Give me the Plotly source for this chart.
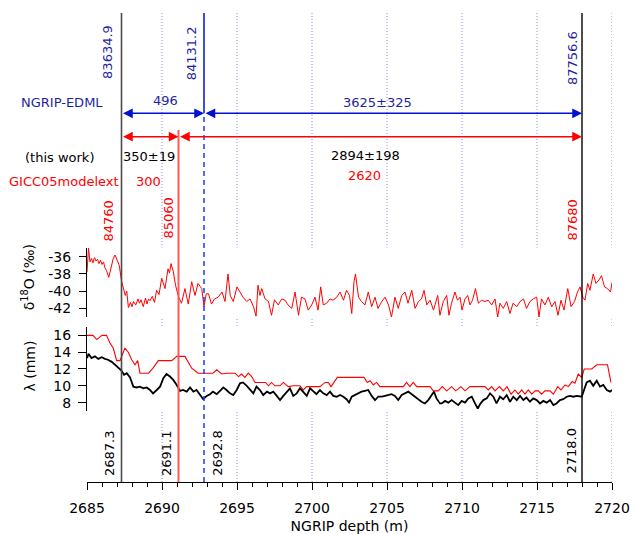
import plotly.graph_objects as go

# ---------------- data ----------------
d18o_depth = [2685.00, 2685.10, 2685.20, 2685.30, 2685.40, 2685.50, 2685.60, 2685.70, 2685.80, 2685.90,
              2686.00, 2686.10, 2686.20, 2686.30, 2686.45, 2686.60, 2686.75, 2686.87, 2687.00, 2687.15,
              2687.30, 2687.47, 2687.55, 2687.65, 2687.76, 2687.90, 2688.00, 2688.10, 2688.25, 2688.40,
              2688.50, 2688.60, 2688.75, 2688.90, 2689.00, 2689.10, 2689.20, 2689.35, 2689.50, 2689.64,
              2689.80, 2689.98, 2690.10, 2690.20, 2690.40, 2690.50, 2690.60, 2690.75, 2690.90, 2691.09,
              2691.30, 2691.53, 2691.75, 2691.98, 2692.20, 2692.40, 2692.65, 2692.80, 2692.95, 2693.10,
              2693.30, 2693.50, 2693.75, 2694.00, 2694.20, 2694.40, 2694.55, 2694.75, 2695.00, 2695.20,
              2695.40, 2695.65, 2695.87, 2696.10, 2696.27, 2696.40, 2696.53, 2696.65, 2696.87, 2697.10,
              2697.30, 2697.50, 2697.75, 2697.98, 2698.20, 2698.40, 2698.65, 2698.87, 2699.10, 2699.30,
              2699.53, 2699.75, 2699.98, 2700.20, 2700.40, 2700.58, 2700.75, 2700.98, 2701.20, 2701.40,
              2701.65, 2701.87, 2702.10, 2702.30, 2702.50, 2702.65, 2702.80, 2702.90, 2703.10, 2703.30,
              2703.53, 2703.75, 2703.98, 2704.20, 2704.40, 2704.65, 2704.87, 2705.10, 2705.30, 2705.53,
              2705.75, 2705.98, 2706.20, 2706.40, 2706.65, 2706.87, 2707.10, 2707.30, 2707.47, 2707.65,
              2707.87, 2708.10, 2708.38, 2708.53, 2708.75, 2708.98, 2709.13, 2709.30, 2709.53, 2709.70,
              2709.87, 2710.00, 2710.20, 2710.38, 2710.53, 2710.70, 2710.90, 2711.09, 2711.30, 2711.53,
              2711.75, 2711.98, 2712.20, 2712.38, 2712.53, 2712.75, 2712.98, 2713.20, 2713.40, 2713.65,
              2713.87, 2714.10, 2714.30, 2714.53, 2714.75, 2714.98, 2715.13, 2715.30, 2715.53, 2715.75,
              2715.98, 2716.20, 2716.40, 2716.60, 2716.80, 2717.05, 2717.27, 2717.50, 2717.70, 2717.87,
              2718.05, 2718.20, 2718.38, 2718.53, 2718.75, 2718.93, 2719.13, 2719.30, 2719.50, 2719.70,
              2719.90, 2720.00]
d18o = [-37.8, -35.0, -36.6, -36.2, -36.7, -36.1, -36.5, -36.3, -36.8, -36.4,
        -36.9, -36.6, -37.3, -37.6, -38.4, -37.2, -36.2, -35.8, -36.4, -37.0,
        -38.8, -39.9, -40.5, -40.0, -41.9, -41.3, -41.8, -41.2, -41.6, -40.9,
        -41.4, -41.0, -41.8, -40.8, -41.5, -40.9, -41.1, -40.6, -41.3, -39.9,
        -40.4, -38.5, -39.2, -39.7, -37.4, -37.9, -36.8, -37.7, -39.3, -40.6,
        -41.4, -39.7, -41.5, -38.9, -40.5, -39.1, -39.7, -41.8, -40.3, -40.3,
        -41.5, -40.9, -40.7, -40.1, -41.2, -38.0, -40.5, -41.2, -39.5, -40.1,
        -40.7, -41.2, -40.9, -41.8, -42.9, -39.3, -40.5, -39.7, -40.9, -41.2,
        -42.8, -41.0, -41.6, -40.9, -41.05, -41.6, -42.0, -40.1, -42.8, -40.7,
        -40.9, -42.2, -41.6, -40.7, -42.2, -39.5, -41.6, -41.4, -40.9, -41.05,
        -40.7, -40.1, -41.05, -39.9, -40.5, -42.6, -38.9, -38.0, -40.7, -41.2,
        -41.6, -40.1, -41.8, -40.7, -42.0, -41.2, -40.7, -41.6, -43.0, -40.7,
        -42.0, -40.5, -40.1, -41.4, -39.9, -42.0, -41.2, -40.9, -39.9, -41.6,
        -41.05, -42.2, -40.5, -42.8, -41.2, -40.5, -42.8, -41.4, -40.1, -41.05,
        -40.7, -42.2, -40.9, -40.5, -41.6, -41.05, -39.7, -41.4, -41.05, -41.2,
        -41.05, -41.6, -40.9, -43.0, -41.4, -42.0, -41.2, -42.6, -41.4, -41.8,
        -41.2, -40.9, -42.0, -41.2, -40.9, -40.7, -43.0, -40.9, -41.6, -40.7,
        -41.8, -41.2, -42.8, -41.05, -42.2, -39.7, -41.8, -41.2, -40.1, -39.5,
        -40.7, -41.05, -39.1, -39.9, -38.0, -39.1, -38.7, -38.2, -39.5, -39.7,
        -40.1, -39.0]

lam_model_depth = [2685.0, 2685.4, 2685.65, 2686.0, 2686.3, 2686.53, 2686.75, 2686.98, 2687.2, 2687.35,
                   2687.53, 2687.75, 2687.98, 2688.2, 2688.38, 2688.53, 2689.1, 2689.4, 2689.75, 2690.65,
                   2690.98, 2691.53, 2691.98, 2692.4, 2693.4, 2693.65, 2693.98, 2694.3, 2694.87, 2695.1,
                   2695.3, 2695.53, 2695.75, 2695.98, 2696.2, 2696.9, 2697.1, 2697.3, 2697.53, 2697.87,
                   2698.09, 2698.42, 2698.75, 2699.2, 2699.42, 2699.65, 2700.53, 2700.87, 2701.09, 2701.27,
                   2701.69, 2703.47, 2703.69, 2703.87, 2704.09, 2704.3, 2704.53, 2706.09, 2706.3, 2706.53,
                   2706.75, 2706.98, 2707.87, 2708.09, 2708.42, 2708.69, 2708.98, 2709.31, 2709.58, 2709.93,
                   2710.2, 2710.53, 2711.53, 2711.75, 2711.98, 2712.2, 2712.5, 2712.75, 2713.0, 2713.27,
                   2713.53, 2713.75, 2713.98, 2714.2, 2714.42, 2714.65, 2714.87, 2715.09, 2715.3, 2715.53,
                   2715.87, 2716.09, 2716.38, 2716.6, 2716.87, 2717.09, 2717.35, 2717.53, 2717.75, 2717.98,
                   2718.15, 2718.65, 2718.98, 2719.7, 2719.93]
lam_model = [16.0, 16.0, 15.5, 16.0, 16.0, 15.1, 14.5, 13.0, 13.0, 13.7,
             14.5, 14.0, 13.1, 12.5, 13.0, 11.5, 11.5, 12.1, 13.0, 13.0,
             13.5, 13.5, 12.1, 11.5, 11.5, 11.9, 11.4, 11.5, 11.5, 11.1,
             11.4, 11.0, 11.5, 11.1, 10.4, 10.4, 10.0, 10.4, 10.0, 10.0,
             10.4, 9.9, 10.0, 10.0, 9.5, 9.9, 9.9, 10.4, 10.4, 9.9,
             11.0, 11.0, 10.4, 10.6, 10.1, 10.4, 9.9, 9.9, 10.4, 9.9,
             10.4, 9.9, 9.9, 9.4, 9.4, 9.9, 9.4, 9.9, 9.4, 9.9,
             9.4, 9.9, 9.9, 9.5, 9.9, 9.4, 9.9, 9.4, 9.9, 9.0,
             9.5, 9.0, 9.5, 9.0, 9.5, 9.0, 9.4, 9.4, 9.0, 9.4,
             9.4, 9.0, 9.9, 9.5, 10.1, 9.9, 10.5, 10.3, 11.4, 11.0,
             12.0, 12.0, 12.5, 12.5, 10.4]

lam_depth = [2685.0, 2685.1, 2685.3, 2685.53, 2685.75, 2685.98, 2686.2, 2686.4, 2686.65, 2686.87,
             2687.1, 2687.3, 2687.47, 2687.65, 2687.87, 2688.09, 2688.3, 2688.53, 2688.75, 2688.98,
             2689.2, 2689.4, 2689.65, 2689.87, 2690.09, 2690.3, 2690.53, 2690.75, 2690.98, 2691.2,
             2691.4, 2691.65, 2691.87, 2692.09, 2692.3, 2692.53, 2692.75, 2692.98, 2693.2, 2693.4,
             2693.65, 2693.87, 2694.09, 2694.3, 2694.53, 2694.75, 2694.98, 2695.2, 2695.4, 2695.65,
             2695.87, 2696.09, 2696.3, 2696.53, 2696.75, 2697.0, 2697.2, 2697.42, 2697.65, 2697.87,
             2698.09, 2698.3, 2698.53, 2698.75, 2698.98, 2699.2, 2699.42, 2699.65, 2699.87, 2700.09,
             2700.3, 2700.53, 2700.75, 2700.98, 2701.2, 2701.42, 2701.65, 2701.87, 2702.09, 2702.3,
             2702.47, 2702.65, 2702.87, 2703.09, 2703.3, 2703.53, 2703.75, 2703.98, 2704.2, 2704.42,
             2704.65, 2704.87, 2705.09, 2705.3, 2705.53, 2705.75, 2705.98, 2706.2, 2706.42, 2706.65,
             2706.87, 2707.09, 2707.3, 2707.53, 2707.75, 2707.98, 2708.13, 2708.3, 2708.53, 2708.65,
             2708.87, 2709.09, 2709.31, 2709.53, 2709.75, 2709.98, 2710.2, 2710.42, 2710.65, 2710.87,
             2711.05, 2711.2, 2711.42, 2711.65, 2711.87, 2712.09, 2712.3, 2712.53, 2712.75, 2712.98,
             2713.2, 2713.42, 2713.65, 2713.87, 2714.09, 2714.3, 2714.53, 2714.75, 2714.98, 2715.2,
             2715.42, 2715.65, 2715.87, 2716.09, 2716.3, 2716.53, 2716.75, 2716.98, 2717.2, 2717.42,
             2717.65, 2717.98, 2718.15, 2718.31, 2718.53, 2718.75, 2718.98, 2719.2, 2719.42, 2719.65,
             2719.87, 2720.0]
lam = [13.3, 13.8, 13.3, 13.5, 13.2, 13.4, 13.2, 13.1, 12.85, 12.5,
       12.1, 11.8, 11.3, 11.5, 11.0, 9.9, 9.8, 9.9, 9.7, 9.8,
       9.5, 9.1, 9.5, 9.9, 10.9, 11.4, 11.1, 10.7, 10.1, 9.4,
       9.5, 9.3, 9.8, 9.3, 9.5, 8.9, 8.4, 8.8, 9.0, 9.3,
       9.0, 9.4, 9.8, 9.5, 9.1, 8.9, 9.5, 10.3, 10.4, 10.0,
       9.5, 9.1, 9.9, 9.5, 8.9, 9.3, 9.1, 9.3, 8.8, 8.3,
       8.8, 9.3, 9.7, 8.8, 9.1, 9.7, 9.3, 8.8, 9.7, 9.3,
       9.0, 9.5, 9.1, 8.9, 9.3, 8.8, 8.7, 8.9, 8.7, 8.4,
       8.0, 8.7, 8.9, 9.1, 9.3, 9.4, 9.5, 8.8, 8.3, 8.7,
       8.7, 8.8, 8.9, 9.0, 8.8, 8.3, 8.9, 9.1, 9.3, 9.0,
       8.7, 8.4, 8.1, 7.9, 8.3, 8.9, 9.3, 8.5, 7.9, 7.9,
       8.2, 8.0, 8.3, 8.0, 7.7, 8.2, 8.0, 8.5, 8.7, 7.9,
       7.3, 7.8, 8.3, 8.5, 9.1, 8.7, 7.9, 8.7, 8.4, 8.9,
       8.1, 8.7, 8.3, 8.8, 8.3, 8.6, 8.1, 8.5, 8.3, 7.9,
       8.2, 8.0, 8.3, 7.7, 7.9, 8.3, 8.4, 8.7, 8.8, 8.7,
       8.8, 8.7, 9.6, 10.4, 10.6, 10.0, 10.6, 9.9, 10.1, 9.5,
       9.3, 9.5]

x_tick_vals = [2685, 2690, 2695, 2700, 2705, 2710, 2715, 2720]
grid_depths = [2690, 2695, 2700, 2705, 2710, 2715, 2720]
d18o_tick_vals = [-42, -40, -38, -36]
d18o_tick_text = ["-42", "-40", "-38", "-36"]
lam_tick_vals = [8, 10, 12, 14, 16]

# event depths (NGRIP depth, m)
ev_start = 2687.3
ev_mid_red = 2691.1
ev_mid_blue = 2692.8
ev_end = 2718.0

# labels
edml_ages = ["83634.9", "84131.2", "87756.6"]
edml_durations = ["496", "3625±325"]
this_work_durations = ["350±19", "2894±198"]
gicc_durations = ["300", "2620"]
gicc_ages = ["84760", "85060", "87680"]
depth_labels = ["2687.3", "2691.1", "2692.8", "2718.0"]

# ---------------- figure ----------------
FONT = "DejaVu Sans"
RED = "#ff0000"
BLUE_TXT = "#1f1fa3"
BLUE_LN = "#0010d0"

fig = go.Figure()
fig.add_trace(go.Scatter(x=d18o_depth, y=d18o, mode="lines", line=dict(color=RED, width=1),
                         xaxis="x", yaxis="y2", showlegend=False))
fig.add_trace(go.Scatter(x=lam_model_depth, y=lam_model, mode="lines", line=dict(color=RED, width=1.1),
                         xaxis="x", yaxis="y3", showlegend=False))
fig.add_trace(go.Scatter(x=lam_depth, y=lam, mode="lines", line=dict(color="black", width=1.8),
                         xaxis="x", yaxis="y3", showlegend=False))

shapes = []
for g in grid_depths:
    shapes.append(dict(type="line", xref="x", yref="y", x0=g, x1=g, y0=0, y1=1,
                       line=dict(color="#8c8cff", width=1, dash="1px,2px"), layer="below"))

Y_BLUE = 0.7861
Y_RED = 0.7363
shapes += [
    dict(type="line", xref="x", yref="y", x0=ev_start, x1=ev_start, y0=0, y1=1,
         line=dict(color="#4a4a4a", width=1.6)),
    dict(type="line", xref="x", yref="y", x0=ev_end, x1=ev_end, y0=0, y1=1,
         line=dict(color="black", width=1.4)),
    dict(type="line", xref="x", yref="y", x0=ev_mid_red, x1=ev_mid_red, y0=0, y1=0.7505,
         line=dict(color="#ff5a5a", width=2)),
    dict(type="line", xref="x", yref="y", x0=ev_mid_blue, x1=ev_mid_blue, y0=Y_BLUE, y1=1,
         line=dict(color=BLUE_LN, width=1.5)),
    dict(type="line", xref="x", yref="y", x0=ev_mid_blue, x1=ev_mid_blue, y0=0, y1=Y_BLUE,
         line=dict(color="#1a3cff", width=1.5, dash="5px,4px")),
]

ann = []


def arrow(x0, x1, y, color):
    return dict(x=x1, y=y, ax=x0, ay=y, xref="x", yref="y", axref="x", ayref="y",
                text="", showarrow=True, arrowhead=2, arrowside="end+start",
                arrowsize=1.3, arrowwidth=1.5, arrowcolor=color, standoff=0, startstandoff=0)


ann += [arrow(ev_start, ev_mid_blue, Y_BLUE, BLUE_LN), arrow(ev_mid_blue, ev_end, Y_BLUE, BLUE_LN),
        arrow(ev_start, ev_mid_red, Y_RED, RED), arrow(ev_mid_red, ev_end, Y_RED, RED)]


def txt(text, x, y, color, size=13, angle=0, xshift=0, xref="x"):
    return dict(text=text, x=x, y=y, xref=xref, yref="y", showarrow=False, textangle=angle,
                xanchor="center", yanchor="middle", xshift=xshift,
                font=dict(family=FONT, size=size, color=color))


# rotated age labels
ann += [txt(edml_ages[0], ev_start, 0.916, BLUE_TXT, angle=-90, xshift=-14),
        txt(edml_ages[1], ev_mid_blue, 0.914, BLUE_TXT, angle=-90, xshift=-13),
        txt(edml_ages[2], ev_end, 0.903, BLUE_TXT, angle=-90, xshift=-9.5),
        txt(gicc_ages[0], ev_start, 0.5565, RED, angle=-90, xshift=-14),
        txt(gicc_ages[1], ev_mid_red, 0.5629, RED, angle=-90, xshift=-11),
        txt(gicc_ages[2], ev_end, 0.5586, RED, angle=-90, xshift=-9.5),
        txt(depth_labels[0], ev_start, 0.0618, "black", angle=-90, xshift=-12.5),
        txt(depth_labels[1], ev_mid_red, 0.0618, "black", angle=-90, xshift=-12.5),
        txt(depth_labels[2], ev_mid_blue, 0.0618, "black", angle=-90, xshift=12.7),
        txt(depth_labels[3], ev_end, 0.0661, "black", angle=-90, xshift=-11.5)]

# horizontal labels (left ones lie outside the depth range -> paper coords)
ann += [txt("NGRIP-EDML", -0.0482, 0.8092, BLUE_TXT, xref="paper"),
        txt(edml_durations[0], 2690.2, 0.8124, BLUE_TXT),
        txt(edml_durations[1], 2704.37, 0.8102, BLUE_TXT),
        txt("(this work)", -0.052, 0.6919, "black", xref="paper"),
        txt(this_work_durations[0], 2689.15, 0.693, "black"),
        txt(this_work_durations[1], 2703.55, 0.6962, "black"),
        txt("GICC05modelext", -0.0442, 0.6418, RED, xref="paper"),
        txt(gicc_durations[0], 2689.09, 0.6418, RED),
        txt(gicc_durations[1], 2703.47, 0.6525, RED)]

# y-axis titles
ann += [txt("δ<sup>18</sup>O (‰)", -0.1133, 0.4355, "black", size=14, angle=-90, xref="paper"),
        txt("λ (mm)", -0.1086, 0.2484, "black", size=14, angle=-90, xref="paper")]

tickfont = dict(family=FONT, size=14, color="black")
fig.update_layout(
    template="none",
    width=632, height=534,
    margin=dict(l=87, r=20, t=13, b=52, autoexpand=False),
    paper_bgcolor="white", plot_bgcolor="white",
    font=dict(family=FONT, size=14, color="black"),
    showlegend=False,
    shapes=shapes, annotations=ann,
    xaxis=dict(range=[2685, 2720], anchor="y", tickvals=x_tick_vals, ticks="outside", ticklen=7,
               tickcolor="black", tickwidth=1, showline=True, linecolor="black", linewidth=1,
               showgrid=False, zeroline=False, tickfont=tickfont, ticklabelstandoff=6,
               automargin=False,
               minor=dict(dtick=1, ticks="outside", ticklen=4, tickcolor="black", showgrid=False),
               title=dict(text="NGRIP depth (m)", font=dict(family=FONT, size=14), standoff=6)),
    yaxis=dict(range=[0, 1], domain=[0, 1], anchor="x", visible=False, fixedrange=True,
               automargin=False),
    yaxis2=dict(range=[-43.0, -34.95], domain=[0.3518, 0.4996], anchor="x",
                tickvals=d18o_tick_vals, ticktext=d18o_tick_text, ticks="outside", ticklen=7,
                tickcolor="black", showline=True, linecolor="black", linewidth=1,
                showgrid=False, zeroline=False, tickfont=tickfont, automargin=False,
                ticklabelstandoff=5),
    yaxis3=dict(range=[7, 17], domain=[0.1514, 0.3305], anchor="x",
                tickvals=lam_tick_vals, ticks="outside", ticklen=8,
                tickcolor="black", showline=True, linecolor="black", linewidth=1,
                showgrid=False, zeroline=False, tickfont=tickfont, automargin=False,
                ticklabelstandoff=4),
)

fig.write_html("out.html")
